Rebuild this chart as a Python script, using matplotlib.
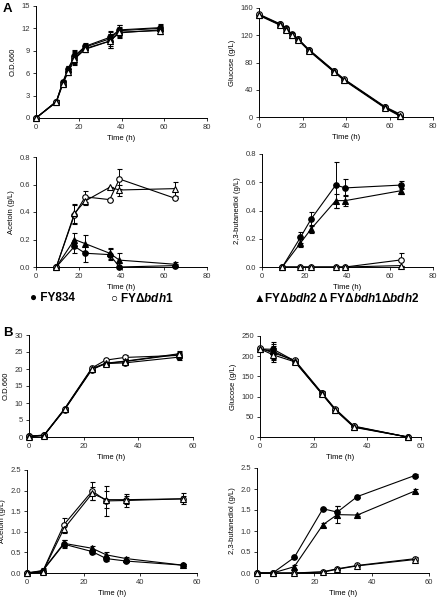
import matplotlib.pyplot as plt
import numpy as np

plt.rcParams['font.family'] = ['Liberation Sans', 'DejaVu Sans']
plt.rcParams['mathtext.fontset'] = 'custom'
plt.rcParams['mathtext.rm'] = 'Liberation Sans:bold'
plt.rcParams['mathtext.it'] = 'Liberation Sans:bold:italic'
plt.rcParams['mathtext.bf'] = 'Liberation Sans:bold'

strains = ['FY834', 'bdh1', 'bdh2', 'bdh1bdh2']

# ---- panel A ----
tA_od = [0, 9.5, 12.5, 15, 18, 23, 34.5, 39, 58]
odA = {
    'FY834':    [0, 2.2, 4.8, 6.6, 8.3, 9.6, 10.8, 11.8, 12.1],
    'bdh1':     [0, 2.2, 4.6, 6.2, 8.0, 9.3, 10.3, 11.4, 11.8],
    'bdh2':     [0, 2.2, 4.7, 6.5, 8.2, 9.5, 10.6, 11.7, 12.0],
    'bdh1bdh2': [0, 2.1, 4.5, 6.2, 7.9, 9.2, 10.3, 11.5, 11.7],
}
odA_err = [0, 0.2, 0.3, 0.4, 0.8, 0.4, 0.9, 0.7, 0.5]

tA_glc = [0, 9.5, 12.5, 15, 18, 23, 34.5, 39, 58, 65]
glcA = {
    'FY834':    [150, 136, 130, 122, 115, 98, 67, 55, 14, 3],
    'bdh1':     [151, 137, 129, 121, 114, 99, 68, 56, 15, 4],
    'bdh2':     [150, 136, 129, 121, 114, 98, 67, 55, 14, 2],
    'bdh1bdh2': [149, 135, 128, 120, 113, 97, 66, 54, 13, 1],
}

tA_prod = [9.5, 18, 23, 34.5, 39, 65]
acA = {
    'FY834':    [0, 0.15, 0.10, 0.09, 0.0, 0.01],
    'bdh1':     [0, 0.38, 0.51, 0.49, 0.64, 0.50],
    'bdh2':     [0, 0.20, 0.17, 0.10, 0.05, 0.02],
    'bdh1bdh2': [0, 0.39, 0.48, 0.58, 0.56, 0.57],
}
acA_err = {
    'FY834':    [0, 0.05, 0.06, 0.04, 0, 0.01],
    'bdh1':     [0, 0.07, 0.04, 0, 0.07, 0],
    'bdh2':     [0, 0.05, 0.06, 0.04, 0.05, 0.02],
    'bdh1bdh2': [0, 0.07, 0.03, 0, 0.04, 0.05],
}
bdoA = {
    'FY834':    [0, 0.21, 0.34, 0.58, 0.56, 0.58],
    'bdh1':     [0, 0, 0, 0, 0, 0.05],
    'bdh2':     [0, 0.17, 0.27, 0.47, 0.47, 0.54],
    'bdh1bdh2': [0, 0, 0, 0, 0, 0.01],
}
bdoA_err = {
    'FY834':    [0, 0.04, 0.05, 0.16, 0.06, 0.03],
    'bdh1':     [0, 0, 0, 0, 0, 0.05],
    'bdh2':     [0, 0.03, 0.03, 0.05, 0.04, 0.02],
    'bdh1bdh2': [0, 0, 0, 0, 0, 0],
}

# ---- panel B ----
tB = [0, 5.5, 13, 23, 28, 35, 55]
odB = {
    'FY834':    [0.2, 0.5, 8.0, 19.8, 21.6, 21.8, 23.5],
    'bdh1':     [0.2, 0.6, 8.3, 20.3, 22.6, 23.4, 24.0],
    'bdh2':     [0.2, 0.5, 8.1, 20.0, 21.7, 22.3, 24.5],
    'bdh1bdh2': [0.1, 0.4, 8.2, 20.1, 21.6, 22.2, 24.3],
}
odB_err = [0, 0.2, 0.4, 0.5, 0.4, 0.6, 0.8]

tB_glc = [0, 5, 13, 23, 28, 35, 55]
glcB = {
    'FY834':    [218, 217, 188, 108, 68, 26, 0],
    'bdh1':     [220, 208, 190, 110, 70, 27, 0],
    'bdh2':     [218, 212, 187, 108, 68, 25, 0],
    'bdh1bdh2': [218, 203, 186, 107, 67, 24, 0],
}
glcB_err = [2, 18, 4, 4, 3, 3, 0]

acB = {
    'FY834':    [0, 0.05, 0.70, 0.52, 0.35, 0.29, 0.19],
    'bdh1':     [0, 0.03, 1.17, 1.99, 1.75, 1.76, 1.80],
    'bdh2':     [0, 0.06, 0.72, 0.60, 0.44, 0.35, 0.19],
    'bdh1bdh2': [0, 0.02, 1.07, 1.93, 1.78, 1.78, 1.80],
}
acB_err = {
    'FY834':    [0, 0.05, 0.10, 0.05, 0.05, 0.03, 0.02],
    'bdh1':     [0, 0.03, 0.17, 0.21, 0.37, 0.15, 0.13],
    'bdh2':     [0, 0.05, 0.08, 0.05, 0.08, 0.03, 0.02],
    'bdh1bdh2': [0, 0.02, 0.10, 0.15, 0.20, 0.10, 0.08],
}
bdoB = {
    'FY834':    [0, 0, 0.37, 1.53, 1.45, 1.82, 2.32],
    'bdh1':     [0, 0, 0, 0.03, 0.10, 0.18, 0.34],
    'bdh2':     [0, 0, 0.15, 1.15, 1.39, 1.38, 1.95],
    'bdh1bdh2': [0, 0, 0, 0.02, 0.09, 0.17, 0.32],
}
bdoB_err = {
    'FY834':    [0, 0, 0.02, 0.02, 0.14, 0.03, 0.03],
    'bdh1':     [0, 0, 0, 0.01, 0.02, 0.02, 0.03],
    'bdh2':     [0, 0, 0.05, 0.05, 0.20, 0.03, 0.04],
    'bdh1bdh2': [0, 0, 0, 0.01, 0.02, 0.02, 0.03],
}

style = {
    'FY834':    dict(marker='o', mfc='black'),
    'bdh1':     dict(marker='o', mfc='white'),
    'bdh2':     dict(marker='^', mfc='black'),
    'bdh1bdh2': dict(marker='^', mfc='white'),
}

W, H = 448, 599
fig = plt.figure(figsize=(W / 100, H / 100), dpi=100)


def make_ax(l, r, t, b):
    return fig.add_axes([l / W, 1 - b / H, (r - l) / W, (b - t) / H])


def panel(ax, x, data, err, xmax, ylim, ystep, ylabel, fmt='%d'):
    for s in strains:
        e = err[s] if isinstance(err, dict) else err
        ax.errorbar(x, data[s], yerr=e, color='black', lw=0.8, ms=4.0,
                    mec='black', mew=0.8, capsize=1.8, elinewidth=0.7,
                    clip_on=False, zorder=3, **style[s])
    ax.set_xlim(0, xmax)
    ax.set_ylim(0, ylim)
    ax.set_xticks(np.arange(0, xmax + 1, 20))
    ax.set_yticks(np.arange(0, ylim + ystep / 2, ystep))
    ax.yaxis.set_major_formatter(plt.FormatStrFormatter(fmt))
    for sp in ['top', 'right']:
        ax.spines[sp].set_visible(False)
    for sp in ['left', 'bottom']:
        ax.spines[sp].set_linewidth(0.7)
    ax.tick_params(labelsize=5.5, length=2.5, width=0.7, pad=2, colors='#333333')
    ax.set_xlabel('Time (h)', fontsize=5.5, labelpad=3)
    ax.set_ylabel(ylabel, fontsize=5.5, labelpad=3)


ax = make_ax(36, 207, 6, 118)
panel(ax, tA_od, odA, odA_err, 80, 15, 3, 'O.D.660')
ax = make_ax(259, 433, 8, 117)
panel(ax, tA_glc, glcA, 0, 80, 160, 40, 'Glucose (g/L)')
ax = make_ax(36, 207, 157, 267)
panel(ax, tA_prod, acA, acA_err, 80, 0.8, 0.2, 'Acetoin (g/L)', '%.1f')
ax = make_ax(262, 433, 154, 267)
panel(ax, tA_prod, bdoA, bdoA_err, 80, 0.8, 0.2, '2,3-butanediol (g/L)', '%.1f')

ax = make_ax(29, 193, 335, 437)
panel(ax, tB, odB, odB_err, 60, 30, 5, 'O.D.660')
ax = make_ax(260, 421, 336, 437)
panel(ax, tB_glc, glcB, glcB_err, 60, 250, 50, 'Glucose (g/L)')
ax = make_ax(27, 197, 470, 573)
panel(ax, tB, acB, acB_err, 60, 2.5, 0.5, 'Acetoin (g/L)', '%.1f')
ax = make_ax(257, 429, 468, 573)
panel(ax, tB, bdoB, bdoB_err, 60, 2.5, 0.5, '2,3-butanediol (g/L)', '%.1f')

fig.text(3 / W, 1 - 9 / H, 'A', fontsize=9.5, fontweight='bold', va='center')
fig.text(3 / W, 1 - 333 / H, 'B', fontsize=9.5, fontweight='bold', va='center')

legend_items = [
    (30, '● FY834'),
    (110, r'○ FY$\Delta\mathit{bdh1}$'),
    (253, r'▲FY$\Delta\mathit{bdh2}$'),
    (318, r'Δ FY$\Delta\mathit{bdh1}\Delta\mathit{bdh2}$'),
]
for x, txt in legend_items:
    fig.text(x / W, 1 - 298 / H, txt, fontsize=8.5, fontweight='bold', va='center')

fig.savefig('out.png', dpi=100)
